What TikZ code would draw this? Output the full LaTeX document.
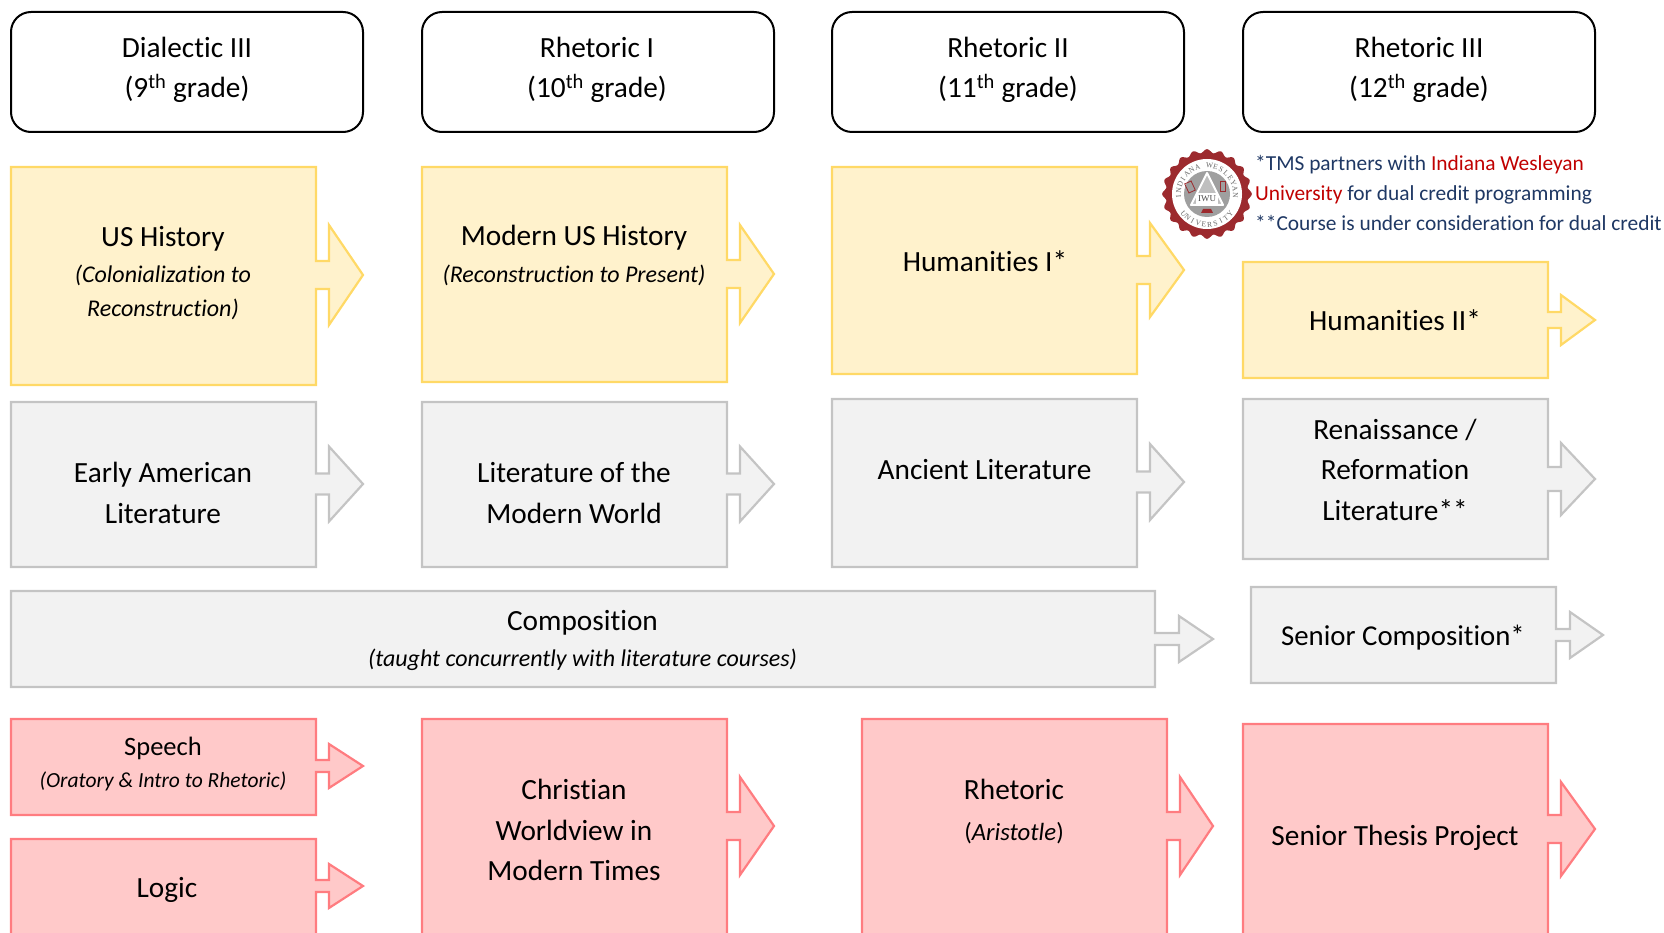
\documentclass[tikz,border=0pt]{standalone}
\usepackage{fontspec}
\setmainfont[Ligatures=NoCommon]{Carlito}
\newfontfamily\sealfont{Liberation Serif}
\definecolor{yfill}{HTML}{FFF2CC}\definecolor{yline}{HTML}{FFD966}
\definecolor{gfill}{HTML}{F2F2F2}\definecolor{gline}{HTML}{C4C4C4}
\definecolor{pfill}{HTML}{FFC9C9}\definecolor{pline}{HTML}{FF7C80}
\definecolor{navy}{HTML}{1F3864}\definecolor{dred}{HTML}{C00000}
\definecolor{seal}{HTML}{9C2A2E}
\newcommand{\main}{\fontsize{29.3}{40.5}\selectfont}
\newcommand{\subt}{\fontsize{24}{34}\selectfont\itshape}
\tikzset{
  x=1pt,y=-1pt,
  yshape/.style={draw=yline,fill=yfill,line width=2.2pt,miter limit=10},
  gshape/.style={draw=gline,fill=gfill,line width=2.2pt,miter limit=10},
  pshape/.style={draw=pline,fill=pfill,line width=2.2pt,miter limit=10},
  head/.style={draw=black,fill=white,line width=2pt,rounded corners=20pt},
  label/.style={align=center,inner sep=0pt,text=black,font=\main},
  note/.style={anchor=base west,inner sep=0pt,text=navy,font=\fontsize{21.4}{24}\selectfont},
  sealchar/.style={inner sep=0pt,text=black!60,font=\sealfont\fontsize{7.5}{8}\selectfont},
}
% #1 style #2 x1 #3 y1 #4 x2 #5 y2 #6 head base x #7 tip x #8 centre y #9 head half height; shaft half in \sh
\newcommand{\sh}{13}
\newcommand{\course}[9]{%
  \draw[#1] (#2,#3) -- (#4,#3) -- (#4,#8-\sh) -- (#6,#8-\sh) -- (#6,#8-#9) -- (#7,#8)
    -- (#6,#8+#9) -- (#6,#8+\sh) -- (#4,#8+\sh) -- (#4,#5) -- (#2,#5) -- cycle;}
\begin{document}
\begin{tikzpicture}
\useasboundingbox (0,0) rectangle (1664,933);
\clip (0,0) rectangle (1664,933);
% headers
\draw[head] (11,12) rectangle (363,132);
\draw[head] (422,12) rectangle (774,132);
\draw[head] (832,12) rectangle (1184,132);
\draw[head] (1243,12) rectangle (1595,132);
\node[label] (h1) at (187,70) {Dialectic III\\(9\textsuperscript{th} grade)};
\node[label] (h2) at (597,70) {Rhetoric I\\(10\textsuperscript{th} grade)};
\node[label] (h3) at (1008,70) {Rhetoric II\\(11\textsuperscript{th} grade)};
\node[label] (h4) at (1419,70) {Rhetoric III\\(12\textsuperscript{th} grade)};
% yellow
\renewcommand{\sh}{14}
\course{yshape}{11}{167}{316}{385}{329}{363}{275}{50}
\course{yshape}{422}{167}{727}{382}{740}{774}{274}{49}
\course{yshape}{832}{167}{1137}{374}{1150}{1184}{270}{47}
\renewcommand{\sh}{8}
\course{yshape}{1243}{262}{1548}{378}{1561}{1595}{320}{25}
\node[label] (t1) at (163,238.5) {US History};
\node[label,font=\subt] (t1b) at (163,292) {(Colonialization to\\Reconstruction)};
\node[label] (t2) at (574,238) {Modern US History};
\node[label,font=\subt] (t2b) at (574,275) {(Reconstruction to Present)};
\node[label] (t3) at (985,261) {Humanities I*};
\node[label] (t4) at (1395,320) {Humanities II*};
% grey
\renewcommand{\sh}{10.5}
\course{gshape}{11}{402}{316}{567}{329}{363}{484}{37.5}
\course{gshape}{422}{402}{727}{567}{740}{774}{484}{37.5}
\course{gshape}{832}{399}{1137}{567}{1150}{1184}{482}{38}
\renewcommand{\sh}{12}
\course{gshape}{1243}{399}{1548}{559}{1561}{1595}{479}{36}
\node[label] (l1) at (163,493) {Early American\\Literature};
\node[label] (l2) at (574,493) {Literature of the\\Modern World};
\node[label] (l3) at (984.5,470) {Ancient Literature};
\node[label] (l4) at (1395,469.5) {Renaissance /\\Reformation\\Literature**};
\renewcommand{\sh}{6}
\course{gshape}{11}{591}{1155}{687}{1179}{1213}{639}{23}
\course{gshape}{1251}{587}{1556}{683}{1570}{1603}{635}{23}
\node[label] (c1) at (582.5,622.5) {Composition};
\node[label,font=\subt] (c1b) at (582.5,659.5) {(taught concurrently with literature courses)};
\node[label,font=\fontsize{28.8}{40}\selectfont] (c2t) at (1403,638) {Senior Composition*};
% pink
\course{pshape}{11}{719}{316}{815}{329}{363}{766}{22}
\course{pshape}{11}{839}{316}{950}{329}{363}{886}{22}
\node[label,font=\fontsize{26.5}{30}\selectfont] (p1) at (163,748) {Speech};
\node[label,font=\fontsize{21.5}{26}\selectfont\itshape] (p1b) at (163,781) {(Oratory \& Intro to Rhetoric)};
\node[label] (p2) at (167,890) {Logic};
\renewcommand{\sh}{14}
\course{pshape}{422}{719}{727}{950}{740}{774}{826}{49}
\course{pshape}{862}{719}{1167}{950}{1180}{1213}{826}{49}
\course{pshape}{1243}{724}{1548}{950}{1561}{1595}{829}{47}
\node[label] (p3) at (574,830) {Christian\\Worldview in\\Modern Times};
\node[label] (p4) at (1014,789) {Rhetoric};
\node[label,font=\fontsize{24.8}{30}\selectfont] (p4b) at (1014,833) {(\textit{Aristotle})};
\node[label] (p5) at (1395,838) {Senior Thesis Project};
% notes
\node[note] (n1) at (1255,170.5) {*TMS partners with \textcolor{dred}{Indiana Wesleyan}};
\node[note] (n2) at (1255,200.5) {\textcolor{dred}{University} for dual credit programming};
\node[note] (n3) at (1255,230.5) {**Course is under consideration for dual credit};
% seal
\begin{scope}[shift={(1207,194)},x=1pt,y=1pt]
\fill[seal] plot[domain=0:360,samples=360,smooth] ({(43+1.8*cos(20*\x))*cos(\x)},{(43+1.8*cos(20*\x))*sin(\x)}) -- cycle;
\fill[white] (0,0) circle (35);
\fill[gray!75] (0,0) circle (23);
\foreach \c [count=\i] in {I,N,D,I,A,N,A,{},W,E,S,L,E,Y,A,N}
  \node[sealchar,rotate={185-(\i-1)*12.5-90}] (top\i) at ({185-(\i-1)*12.5}:28.5) {\c};
\foreach \c [count=\i] in {U,N,I,V,E,R,S,I,T,Y}
  \node[sealchar,rotate={220+(\i-1)*11+90}] (bot\i) at ({220+(\i-1)*11}:30.5) {\c};
\draw[white,fill=gray!50,line width=2pt,line join=round] (-16,-11) -- (0,21) -- (16,-11) -- cycle;
\fill[white] (-11,-10) rectangle (11,1);
\node[inner sep=0pt,text=black!70,font=\sealfont\fontsize{9}{10}\selectfont] (iwu) at (0,-5) {IWU};
\draw[seal,line width=.8pt,rotate around={25:(-17,7)}] (-20.5,2) rectangle (-13.5,12);
\draw[seal,line width=.8pt] (13.5,3) rectangle (18,13);
\fill[seal] (-6,-19) -- (6,-19) -- (4,-15) -- (-4,-15) -- cycle;
\end{scope}
\end{tikzpicture}
\end{document}
